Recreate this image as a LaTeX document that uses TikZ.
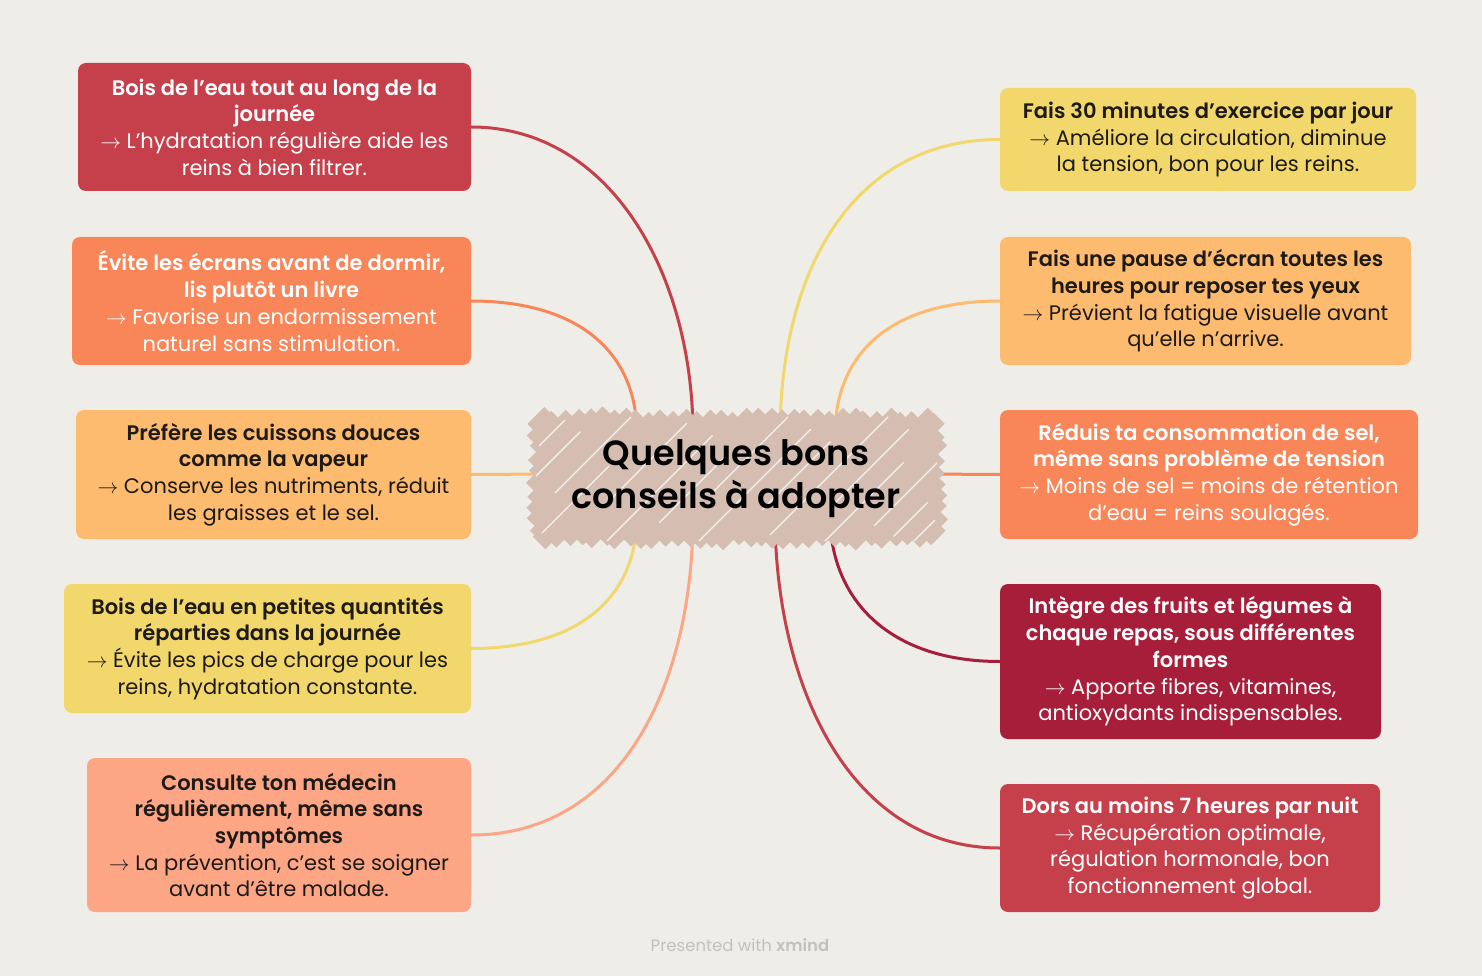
\documentclass[tikz,border=0pt]{standalone}
\usepackage{fontspec}
\setmainfont{Poppins}[BoldFont={Poppins SemiBold}]
\definecolor{bg}{HTML}{EEEDE8}
\definecolor{cRed}{HTML}{C6404C}
\definecolor{cOrange}{HTML}{F98659}
\definecolor{cPeach}{HTML}{FDBB6F}
\definecolor{cYellow}{HTML}{F1D76C}
\definecolor{cSalmon}{HTML}{FDA686}
\definecolor{cCrimson}{HTML}{A71E3B}
\definecolor{cCentre}{HTML}{D5BEB1}
\definecolor{ink}{HTML}{1E1A18}
\definecolor{footgray}{HTML}{C2C1BC}
\definecolor{gapwhite}{HTML}{F4F1EE}
\begin{document}
\begin{tikzpicture}[x=1pt,y=-1pt,
  tipbox/.style={rounded corners=8pt, inner sep=0pt, align=center,
    font=\fontsize{21}{26.7}\selectfont},
  darktxt/.style={text=ink},
  lighttxt/.style={text=white},
  linkline/.style={line width=3pt, line cap=round},
  scrib/.style={cCentre, line cap=butt},
  scribgap/.style={gapwhite, line width=1.1pt, line cap=round}]

% canvas
\fill[bg] (0,0) rectangle (1482,976);
\useasboundingbox (0,0) rectangle (1482,976);

% left column
\node[tipbox, lighttxt, fill=cRed, minimum width=393pt, minimum height=128pt] (l1) at (274.5,127)
  {\textbf{Bois de l'eau tout au long de la}\\\textbf{journée}\\$\rightarrow$ L'hydratation régulière aide les\\reins à bien filtrer.};
\node[tipbox, lighttxt, fill=cOrange, minimum width=399pt, minimum height=128pt] (l2) at (271.5,301)
  {\textbf{Évite les écrans avant de dormir,}\\\textbf{lis plutôt un livre}\\$\rightarrow$ Favorise un endormissement\\naturel sans stimulation.};
\node[tipbox, darktxt, fill=cPeach, minimum width=395pt, minimum height=129pt] (l3) at (273.5,474.5)
  {\textbf{Préfère les cuissons douces}\\\textbf{comme la vapeur}\\$\rightarrow$ Conserve les nutriments, réduit\\les graisses et le sel.};
\node[tipbox, darktxt, fill=cYellow, minimum width=407pt, minimum height=129pt] (l4) at (267.5,648.5)
  {\textbf{Bois de l'eau en petites quantités}\\\textbf{réparties dans la journée}\\$\rightarrow$ Évite les pics de charge pour les\\reins, hydratation constante.};
\node[tipbox, darktxt, fill=cSalmon, minimum width=384pt, minimum height=154pt] (l5) at (279,835)
  {\textbf{Consulte ton médecin}\\\textbf{régulièrement, même sans}\\\textbf{symptômes}\\$\rightarrow$ La prévention, c'est se soigner\\avant d'être malade.};

% right column
\node[tipbox, darktxt, fill=cYellow, minimum width=416pt, minimum height=103pt] (r1) at (1208,139.5)
  {\textbf{Fais 30 minutes d'exercice par jour}\\$\rightarrow$ Améliore la circulation, diminue\\la tension, bon pour les reins.};
\node[tipbox, darktxt, fill=cPeach, minimum width=411pt, minimum height=128pt] (r2) at (1205.5,301)
  {\textbf{Fais une pause d'écran toutes les}\\\textbf{heures pour reposer tes yeux}\\$\rightarrow$ Prévient la fatigue visuelle avant\\qu'elle n'arrive.};
\node[tipbox, lighttxt, fill=cOrange, minimum width=418pt, minimum height=129pt] (r3) at (1209,474.5)
  {\textbf{Réduis ta consommation de sel,}\\\textbf{même sans problème de tension}\\$\rightarrow$ Moins de sel = moins de rétention\\d'eau = reins soulagés.};
\node[tipbox, lighttxt, fill=cCrimson, minimum width=381pt, minimum height=155pt] (r4) at (1190.5,661.5)
  {\textbf{Intègre des fruits et légumes à}\\\textbf{chaque repas, sous différentes}\\\textbf{formes}\\$\rightarrow$ Apporte fibres, vitamines,\\antioxydants indispensables.};
\node[tipbox, lighttxt, fill=cRed, minimum width=380pt, minimum height=128pt] (r5) at (1190,848)
  {\textbf{Dors au moins 7 heures par nuit}\\$\rightarrow$ Récupération optimale,\\régulation hormonale, bon\\fonctionnement global.};

% attachment points on the central topic
\coordinate (ct1) at (693,435);
\coordinate (ct2) at (637,435);
\coordinate (ct3) at (550,474);
\coordinate (ct4) at (637,515);
\coordinate (ct5) at (693,515);
\coordinate (cr1) at (780,435);
\coordinate (cr2) at (835,435);
\coordinate (cr3) at (925,474);
\coordinate (cr4) at (830,515);
\coordinate (cr5) at (775,515);

% branches
\draw[linkline, cRed]     (l1.east) .. controls +(140,0) and +(0,-160) .. (ct1);
\draw[linkline, cOrange]  (l2.east) .. controls +(105,0) and +(0,-85) .. (ct2);
\draw[linkline, cPeach]   (l3.east) -- (ct3);
\draw[linkline, cYellow]  (l4.east) .. controls +(105,0) and +(0,85) .. (ct4);
\draw[linkline, cSalmon]  (l5.east) .. controls +(150,0) and +(0,170) .. (ct5);
\draw[linkline, cYellow]  (r1.west) .. controls +(-150,0) and +(0,-160) .. (cr1);
\draw[linkline, cPeach]   (r2.west) .. controls +(-105,0) and +(0,-85) .. (cr2);
\draw[linkline, cOrange]  (r3.west) -- (cr3);
\draw[linkline, cCrimson] (r4.west) .. controls +(-110,0) and +(0,85) .. (cr4);
\draw[linkline, cRed]     (r5.west) .. controls +(-150,0) and +(0,170) .. (cr5);

% central topic: hand-hatched marker fill
\fill[cCentre] (545,424) rectangle (928,532);
\pgfmathsetseed{11}
\foreach \c in {962,974,...,1474} {
  \pgfmathsetmacro{\xa}{max(535,\c-541)}
  \pgfmathsetmacro{\xb}{min(938,\c-416)}
  \pgfmathsetmacro{\ea}{-1+5*rnd}
  \pgfmathsetmacro{\eb}{-1+5*rnd}
  \pgfmathsetmacro{\lw}{13+6*rnd}
  \draw[scrib, line width=\lw pt] (\xa-\ea,\c-\xa+\ea) -- (\xb+\eb,\c-\xb-\eb);
}
\foreach \c/\s/\e in {985/0.1/0.9, 1012/0.0/0.75, 1048/0.2/1.0, 1075/0.05/0.6, 1110/0.3/0.95, 1148/0.0/0.85, 1182/0.15/0.7, 1205/0.4/1.0, 1240/0.0/0.9, 1272/0.25/0.8, 1305/0.05/1.0, 1338/0.3/0.9, 1366/0.0/0.7, 1400/0.2/1.0, 1430/0.1/0.8, 1455/0.0/0.9} {
  \pgfmathsetmacro{\xa}{max(536,\c-541)}
  \pgfmathsetmacro{\xb}{min(937,\c-417)}
  \pgfmathsetmacro{\pa}{\xa+\s*(\xb-\xa)}
  \pgfmathsetmacro{\pb}{\xa+\e*(\xb-\xa)}
  \draw[scribgap] (\pa,\c-\pa) -- (\pb,\c-\pb);
}
\node[align=center, text=black, font=\fontsize{35}{43}\selectfont\bfseries] (ctr) at (736,479)
  {Quelques bons\\conseils à adopter};

% footer
\node[text=footgray, font=\fontsize{16.5}{18}\selectfont] (foot) at (740,945)
  {Presented with \textbf{xmind}};
\end{tikzpicture}
\end{document}
